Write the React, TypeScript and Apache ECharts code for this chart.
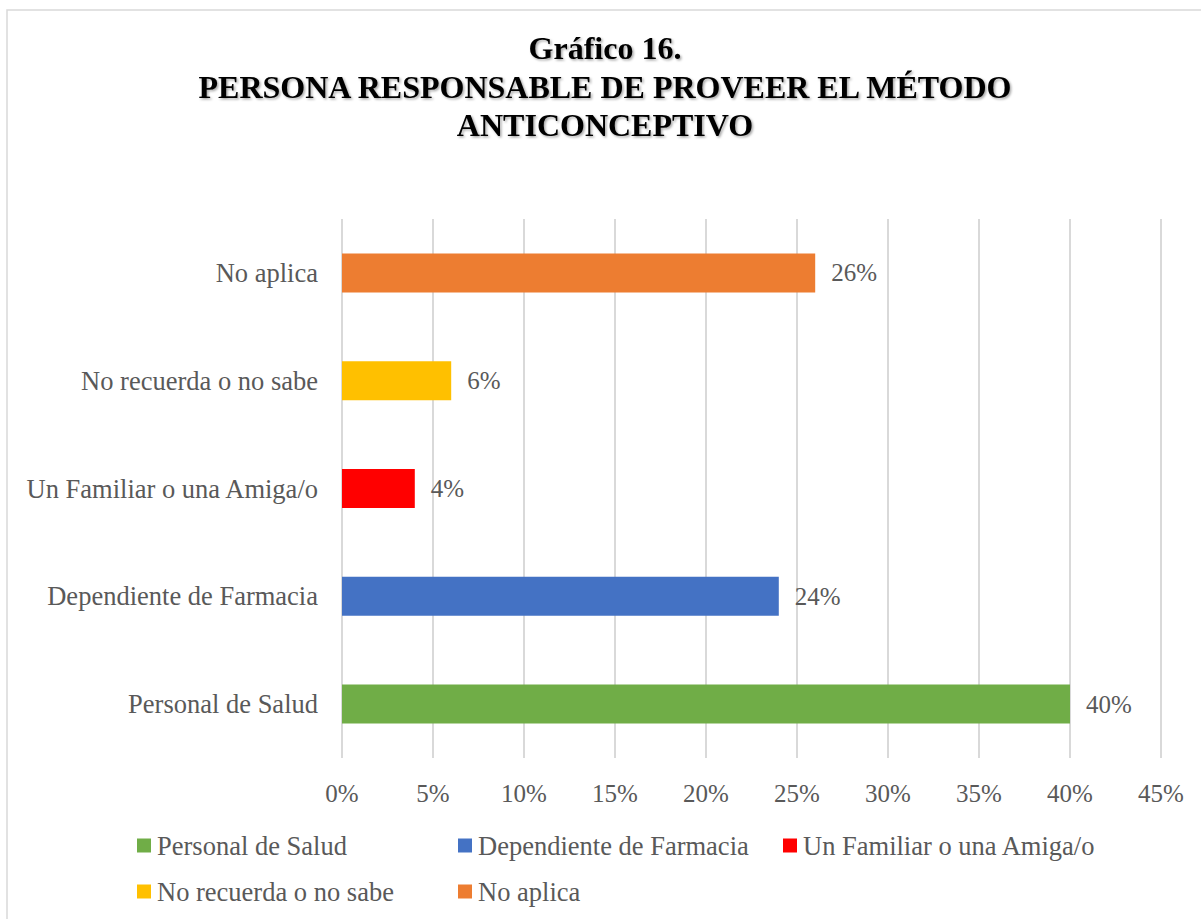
import React, { useEffect, useRef } from "react";
import * as echarts from "echarts";

const categories = [
  "Personal de Salud",
  "Dependiente de Farmacia",
  "Un Familiar o una Amiga/o",
  "No recuerda o no sabe",
  "No aplica",
];
const values = [40, 24, 4, 6, 26];
const colors = ["#70AD47", "#4472C4", "#FF0000", "#FFC000", "#ED7D31"];
const xTicks = { min: 0, max: 45, interval: 5 };
const titleLines = ["Gráfico 16.", "PERSONA RESPONSABLE DE PROVEER EL MÉTODO", "ANTICONCEPTIVO"];

const legendPos = [
  { left: 137, top: 832 },
  { left: 458, top: 832 },
  { left: 783, top: 832 },
  { left: 137, top: 878 },
  { left: 458, top: 878 },
];

const FONT = "'Liberation Serif', 'Times New Roman', serif";
const GREY = "#595959";

export default function App() {
  const ref = useRef<HTMLDivElement>(null);
  useEffect(() => {
    if (!ref.current) return;
    const chart = echarts.init(ref.current, undefined, { renderer: "svg" });
    const series = categories.map((name, i) => ({
      name,
      type: "bar",
      stack: "all",
      barWidth: 39,
      itemStyle: { color: colors[i] },
      data: categories.map((_, j) => (j === i ? values[i] : "-")),
      label: {
        show: true,
        position: "right",
        distance: 16,
        formatter: "{c}%",
        color: GREY,
        fontFamily: FONT,
        fontSize: 25,
      },
    }));
    const legends = categories.map((name, i) => ({
      data: [name],
      left: legendPos[i].left,
      top: legendPos[i].top,
      itemWidth: 14,
      itemHeight: 14,
      itemGap: 0,
      padding: 0,
      icon: "rect",
      selectedMode: false,
      textStyle: { color: GREY, fontFamily: FONT, fontSize: 26.5, padding: [0, 0, 0, 1] },
    }));
    chart.setOption({
      animation: false,
      backgroundColor: "#ffffff",
      title: {
        text: titleLines.join("\n"),
        left: 600,
        top: 24,
        textAlign: "center",
        textStyle: {
          fontFamily: FONT,
          fontSize: 32,
          fontWeight: "bold",
          color: "#000000",
          lineHeight: 38.5,
          textShadowColor: "rgba(0,0,0,0.35)",
          textShadowOffsetX: 1.5,
          textShadowOffsetY: 1.5,
          textShadowBlur: 2,
        },
      },
      graphic: [
        {
          type: "rect",
          shape: { x: 7, y: 10, width: 1400, height: 1100 },
          style: { fill: "none", stroke: "#d9d9d9", lineWidth: 1.5 },
          silent: true,
          z: 100,
        },
      ],
      legend: legends,
      grid: { left: 342, right: 40, top: 219, bottom: 161, containLabel: false },
      xAxis: {
        type: "value",
        min: xTicks.min,
        max: xTicks.max,
        interval: xTicks.interval,
        axisLine: { show: false },
        axisTick: { show: false },
        splitLine: { show: true, lineStyle: { color: "#d9d9d9", width: 2 } },
        axisLabel: {
          formatter: "{value}%",
          color: GREY,
          fontFamily: FONT,
          fontSize: 25,
          margin: 23,
        },
      },
      yAxis: {
        type: "category",
        data: categories,
        axisLine: { show: false },
        axisTick: { show: false },
        axisLabel: { color: GREY, fontFamily: FONT, fontSize: 26.5, margin: 24 },
      },
      series,
    });
    return () => chart.dispose();
  }, []);
  return (
    <div
      ref={ref}
      style={{ position: "absolute", left: 0, top: 0, width: 1201, height: 919 }}
    />
  );
}
